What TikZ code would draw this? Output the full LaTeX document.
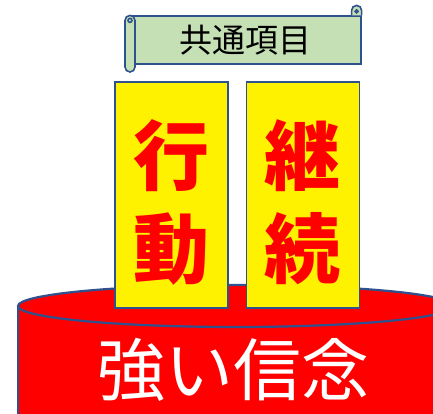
\documentclass[tikz,border=0pt]{standalone}
\usepackage{fontspec}
\newfontfamily\cjk{Noto Sans CJK JP}
\definecolor{edgeblue}{RGB}{47,82,143}
\definecolor{scrollgreen}{RGB}{197,224,180}
\tikzset{
  edge/.style={draw=edgeblue, line width=1.6pt},
  banner/.style={anchor=south west, edge, fill=yellow, minimum width=113pt, minimum height=226pt, inner sep=0pt},
  bannertext/.style={align=center, text=red, font=\cjk\bfseries\fontsize{76}{93}\selectfont},
  scrollbody/.style={anchor=south west, edge, fill=scrollgreen, minimum width=230pt, minimum height=48pt, inner sep=0pt, font=\cjk\fontsize{33}{38}\selectfont}
}
\begin{document}
\begin{tikzpicture}[x=1pt,y=1pt]
\useasboundingbox (0,0) rectangle (433,414);
\clip (0,0) rectangle (433,414);
% base
\fill [red] (18,-10) -- (18,108) arc [start angle=180, end angle=360, x radius=218pt, y radius=21pt] -- (454,-10) -- cycle;
\draw [edge] (18,-10) -- (18,108);
\draw [edge, line width=2.2pt, fill=red] (236,108) ellipse [x radius=218pt, y radius=21pt];
\node [text=white, font=\cjk\fontsize{68}{80}\selectfont] (belief) at (233,44) {強い信念};

% banners
\node [banner] (act) at (114,105) {};
\node [banner] (cont) at ([xshift=17pt]act.south east) {};
\node [bannertext] (acttext) at ([yshift=-7pt]act.center) {行\\動};
\node [bannertext] (conttext) at ([yshift=-7pt]cont.center) {継\\続};

% scroll
\node [scrollbody] (common) at (130,349) {共通項目};
\draw [edge, fill=scrollgreen] ([xshift=-10pt]common.north east) -- ++(0,5) arc [start angle=180, end angle=0, radius=5pt] -- (common.north east);
\draw [edge, fill=scrollgreen] ([xshift=-5pt,yshift=4pt]common.north east) circle [radius=1.5pt];
\draw [edge, fill=scrollgreen, rounded corners=5pt] ([xshift=-5pt]common.north west) rectangle ([xshift=5pt,yshift=-7pt]common.south west);
\draw [edge, fill=scrollgreen] ([yshift=-5pt]common.north west) circle [radius=2pt];
\end{tikzpicture}
\end{document}
